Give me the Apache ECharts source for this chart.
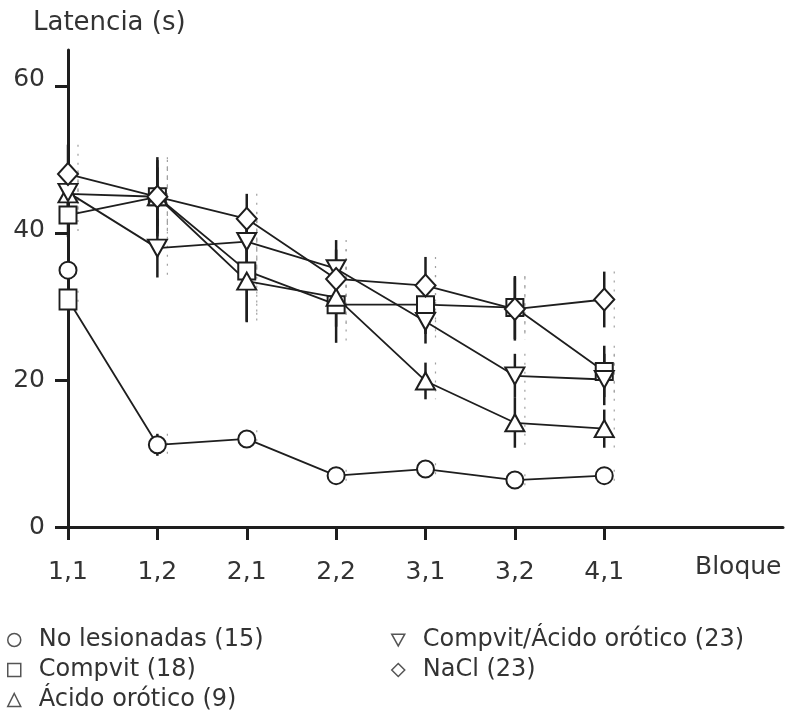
<!DOCTYPE html>
<html><head><meta charset="utf-8">
<script src="https://cdn.jsdelivr.net/npm/echarts@6/dist/echarts.min.js"></script>
<style>html,body{margin:0;padding:0;background:#fff}#c{width:787px;height:722px}</style>
</head><body><div id="c"></div>
<script>
const categories = ['1,1','1,2','2,1','2,2','3,1','3,2','4,1'];
const yTicks = [0, 20, 40, 60];
const seriesNames = ['No lesionadas (15)', 'Compvit (18)', 'Ácido orótico (9)', 'Compvit/Ácido orótico (23)', 'NaCl (23)'];
const noLesionadas    = [31, 11.2, 12.0, 7.0, 7.9, 6.4, 7.0];
const noLesionadasErr = [1.2, 1.5, 1.2, 0.8, 0.8, 0.8, 0.8];
const noLesionadasExtra = [35];   // second circle drawn at 1,1
const compvit         = [42.5, 45.0, 34.9, 30.3, 30.3, 29.9, 21.2];
const compvitErr      = [3.0, 5.0, 7.0, 5.2, 4.0, 4.3, 3.5];
const acidoOrotico    = [45.4, 45.0, 33.5, 31.3, 19.9, 14.2, 13.4];
const acidoOroticoErr = [3.0, 4.0, 5.5, 4.0, 2.5, 3.4, 2.6];
const compvitAO       = [45.6, 38.0, 38.9, 35.2, 28.0, 20.6, 20.1];
const compvitAOErr    = [3.0, 4.0, 4.0, 3.9, 3.0, 3.0, 3.5];
const nacl            = [48.1, 45.0, 42.0, 33.8, 32.9, 29.7, 31.0];
const naclErr         = [4.0, 5.4, 3.4, 4.0, 3.9, 4.3, 3.8];

const FONT = 'DejaVu Sans';
const INK = '#1e1e1e';
const TXT = '#333';
const downTri = 'path://M0,0L20,0L10,18Z';
const symbols = ['circle', 'rect', 'triangle', downTri, 'diamond'];
const symbolSizes = [17, 17, [19, 17], [19, 17], [20, 22]];

function errSeries(vals, errs) {
  return {
    type: 'custom', silent: true, z: 1, legendHoverLink: false,
    encode: { x: 0, y: 1 },
    data: vals.map((v, i) => [i, v, errs[i]]),
    renderItem: (params, api) => {
      const x = api.value(0), v = api.value(1), e = api.value(2);
      const top = api.coord([x, v + e]), bot = api.coord([x, v - e]);
      return { type: 'group', children: [
        { type: 'line', shape: { x1: top[0], y1: top[1], x2: bot[0], y2: bot[1] }, style: { stroke: INK, lineWidth: 2.5 } },
        { type: 'line', shape: { x1: top[0] + 10, y1: top[1], x2: bot[0] + 10, y2: bot[1] }, style: { stroke: '#a0a0a0', lineWidth: 1.2, lineDash: [2, 7] } }
      ]};
    }
  };
}

function lineSeries(name, vals, idx) {
  return {
    name, type: 'line', z: 3, data: vals,
    symbol: symbols[idx], symbolSize: symbolSizes[idx], showAllSymbol: true,
    itemStyle: { color: '#fff', borderColor: INK, borderWidth: 2 },
    lineStyle: { color: INK, width: 1.8 },
    emphasis: { disabled: true }, animation: false
  };
}

const valueSets = [noLesionadas, compvit, acidoOrotico, compvitAO, nacl];
const errSets = [noLesionadasErr, compvitErr, acidoOroticoErr, compvitAOErr, naclErr];

const series = [];
valueSets.forEach((v, i) => series.push(errSeries(v, errSets[i])));
series.push(lineSeries(seriesNames[0], noLesionadas.map((v, i) => i === 0 ? { value: v, symbol: 'rect', symbolSize: [17, 20] } : v), 0));
series.push({
  type: 'line', z: 3, data: noLesionadasExtra, symbol: 'circle', symbolSize: 17, showSymbol: true,
  lineStyle: { width: 0 }, itemStyle: { color: '#fff', borderColor: INK, borderWidth: 2 }, animation: false
});
for (let i = 1; i < 5; i++) series.push(lineSeries(seriesNames[i], valueSets[i], i));

const legendItem = (i) => ({ name: seriesNames[i], icon: symbols[i] });
const legendCommon = {
  orient: 'vertical', itemWidth: 13, itemHeight: 13, itemGap: 6, selectedMode: false,
  itemStyle: { color: '#fff', borderColor: '#555', borderWidth: 1.5 },
  textStyle: { fontFamily: FONT, fontSize: 24, color: TXT, padding: [0, 0, 0, 13] }
};

const yLabelShift = { 60: 14, 40: 6, 20: 0, 0: 0 };
const yRich = {};
yTicks.forEach(t => { yRich['u' + t] = { fontFamily: FONT, fontSize: 25, color: TXT, padding: [0, 0, yLabelShift[t], 0] }; });

const chart = echarts.init(document.getElementById('c'), null, { renderer: 'canvas' });
chart.setOption({
  animation: false,
  backgroundColor: '#fff',
  title: [
    { text: 'Latencia (s)', left: 28, top: 5, textStyle: { fontFamily: FONT, fontSize: 26, fontWeight: 'normal', color: TXT } },
    { text: 'Bloque', left: 690, top: 550, textStyle: { fontFamily: FONT, fontSize: 25, fontWeight: 'normal', color: TXT } }
  ],
  grid: { left: 68, right: 4, top: 50, bottom: 195, containLabel: false },
  legend: [
    Object.assign({ left: 2, top: 623, data: [legendItem(0), legendItem(1), legendItem(2)] }, legendCommon),
    Object.assign({ left: 386, top: 623, data: [legendItem(3), legendItem(4)] }, legendCommon)
  ],
  xAxis: {
    type: 'category', boundaryGap: false, data: categories.concat(['', '']),
    axisLine: { lineStyle: { color: INK, width: 3 } },
    axisTick: { interval: (i) => i < categories.length, length: 13, lineStyle: { color: INK, width: 3 } },
    axisLabel: { interval: (i) => i < categories.length, margin: 33, fontFamily: FONT, fontSize: 25, color: TXT },
    splitLine: { show: false }
  },
  yAxis: {
    type: 'value', min: 0, max: 65,
    axisLine: { show: true, lineStyle: { color: INK, width: 3 } },
    axisTick: { show: true, customValues: yTicks, length: 13, lineStyle: { color: INK, width: 3 } },
    axisLabel: { customValues: yTicks, margin: 23, formatter: (v) => '{u' + v + '|' + v + '}', rich: yRich, fontFamily: FONT, fontSize: 25, color: TXT },
    splitLine: { show: false }
  },
  series
});
</script></body></html>
